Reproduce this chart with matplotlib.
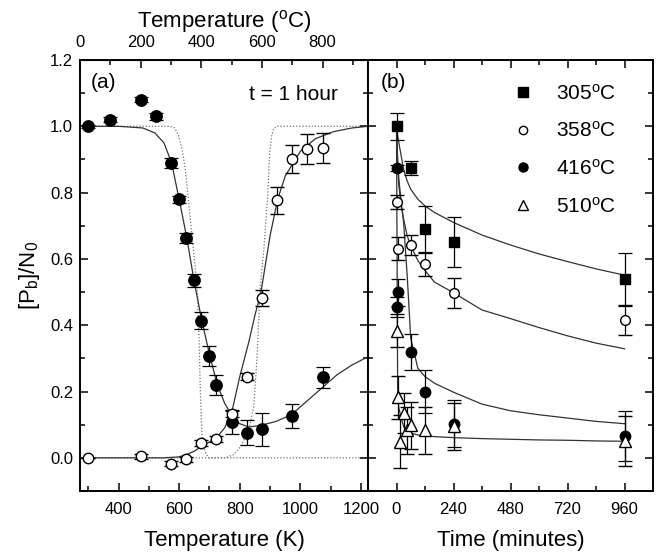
import numpy as np
import matplotlib
matplotlib.use("Agg")
import matplotlib.pyplot as plt
from matplotlib.ticker import MultipleLocator
from matplotlib.lines import Line2D

plt.rcParams['font.family'] = ['Liberation Sans', 'DejaVu Sans']
plt.rcParams['mathtext.default'] = 'regular'

# ---- panel (a): fraction vs annealing temperature, t = 1 hour ----
temp_k_filled = [298, 373, 473, 523, 573, 598, 623, 648, 673, 698, 723, 773, 823, 873, 973, 1073]
frac_filled = [1.0, 1.02, 1.08, 1.03, 0.89, 0.78, 0.662, 0.536, 0.414, 0.308, 0.22, 0.107, 0.076, 0.086, 0.126, 0.243]
err_filled = [0.004, 0.008, 0.008, 0.01, 0.015, 0.01, 0.015, 0.02, 0.025, 0.03, 0.031, 0.035, 0.038, 0.049, 0.037, 0.031]

temp_k_open = [298, 473, 573, 623, 673, 723, 773, 823, 873, 923, 973, 1023, 1073]
frac_open = [0.0, 0.005, -0.018, -0.004, 0.045, 0.057, 0.133, 0.245, 0.482, 0.777, 0.902, 0.932, 0.934]
err_open = [0.0, 0.008, 0.008, 0.008, 0.008, 0.008, 0.01, 0.01, 0.025, 0.04, 0.043, 0.046, 0.046]

fit_filled_k = [273, 400, 480, 520, 550, 575, 600, 625, 650, 675, 700, 725, 750, 775, 800,
                830, 870, 920, 970, 1020, 1070, 1120, 1170, 1223]
fit_filled = [1.0, 1.0, 0.995, 0.98, 0.95, 0.89, 0.78, 0.665, 0.53, 0.413, 0.313, 0.223, 0.165,
              0.125, 0.103, 0.093, 0.098, 0.11, 0.13, 0.17, 0.21, 0.25, 0.28, 0.305]

fit_open_k = [273, 550, 600, 625, 650, 675, 700, 725, 750, 775, 800, 830, 850, 870, 900, 925,
              950, 1000, 1050, 1110, 1170, 1223]
fit_open = [0.0, 0.0, 0.003, 0.01, 0.02, 0.035, 0.048, 0.063, 0.09, 0.143, 0.245, 0.35, 0.43,
            0.5, 0.67, 0.78, 0.85, 0.925, 0.963, 0.984, 0.995, 1.0]

dot_fall_k = [273, 570, 585, 597, 610, 620, 631, 642, 653, 661, 666, 670, 675, 685, 697, 1223]
dot_fall = [1.0, 1.0, 0.995, 0.975, 0.93, 0.874, 0.774, 0.674, 0.574, 0.49, 0.35, 0.2, 0.074,
            0.02, 0.0, 0.0]
dot_rise_k = [273, 752, 780, 802, 830, 846, 857, 866, 872, 879, 891, 899, 905, 912, 925, 1223]
dot_rise = [0.0, 0.0, 0.01, 0.033, 0.083, 0.153, 0.303, 0.49, 0.56, 0.624, 0.774, 0.924, 0.97,
            0.994, 1.0, 1.0]

# ---- panel (b): fraction vs annealing time ----
time_305 = [0, 60, 120, 240, 960]
frac_305 = [1.0, 0.874, 0.69, 0.652, 0.539]
err_305 = [0.04, 0.02, 0.07, 0.075, 0.08]

time_358 = [0, 5, 60, 120, 240, 960]
frac_358 = [0.772, 0.631, 0.641, 0.584, 0.496, 0.417]
err_358 = [0.022, 0.035, 0.03, 0.035, 0.045, 0.045]

time_416 = [0, 0, 5, 60, 120, 240, 960]
frac_416 = [0.874, 0.454, 0.499, 0.32, 0.2, 0.103, 0.065]
err_416 = [0.01, 0.03, 0.04, 0.055, 0.065, 0.07, 0.075]

time_510 = [0, 5, 15, 30, 45, 60, 120, 240, 960]
frac_510 = [0.384, 0.183, 0.048, 0.135, 0.083, 0.098, 0.083, 0.095, 0.05]
err_510 = [0.05, 0.065, 0.08, 0.06, 0.07, 0.07, 0.07, 0.07, 0.075]

fit_t = [0, 5, 10, 20, 30, 45, 60, 90, 120, 160, 240, 360, 480, 600, 720, 840, 960]
fit_305 = [1.0, 0.97, 0.95, 0.91, 0.87, 0.835, 0.81, 0.78, 0.76, 0.74, 0.71, 0.672, 0.642,
           0.615, 0.592, 0.57, 0.551]
fit_358 = [1.0, 0.88, 0.82, 0.76, 0.72, 0.67, 0.64, 0.595, 0.565, 0.53, 0.498, 0.446, 0.42,
           0.393, 0.368, 0.346, 0.329]
fit_416 = [1.0, 0.9, 0.84, 0.77, 0.71, 0.55, 0.36, 0.27, 0.245, 0.225, 0.198, 0.162, 0.142,
           0.13, 0.12, 0.11, 0.103]
fit_510 = [1.0, 0.18, 0.15, 0.118, 0.095, 0.08, 0.075, 0.069, 0.067, 0.064, 0.061, 0.058,
           0.056, 0.054, 0.053, 0.051, 0.05]

legend_labels = ["305$^o$C", "358$^o$C", "416$^o$C", "510$^o$C"]

W, H = 657, 557
fig = plt.figure(figsize=(W / 100, H / 100), dpi=100)
ax1 = fig.add_axes([80 / W, 1 - 491 / H, 288 / W, 431 / H])
ax2 = fig.add_axes([368 / W, 1 - 491 / H, 285 / W, 431 / H], sharey=ax1)

fit_kw = dict(color="0.2", lw=0.9, zorder=2)
dot_kw = dict(color="0.45", lw=0.9, ls=(0, (1, 1.5)), zorder=1)
eb_kw = dict(ecolor="k", elinewidth=0.9, capsize=4.8, capthick=0.9, ls="none", zorder=3)

# (a)
ax1.plot(dot_fall_k, dot_fall, **dot_kw)
ax1.plot(dot_rise_k, dot_rise, **dot_kw)
ax1.plot(fit_filled_k, fit_filled, **fit_kw)
ax1.plot(fit_open_k, fit_open, **fit_kw)
ax1.errorbar(temp_k_filled, frac_filled, yerr=err_filled, fmt="o", mfc="k", mec="k", ms=8.2, **eb_kw)
ax1.errorbar(temp_k_open, frac_open, yerr=err_open, fmt="o", mfc="white", mec="k", mew=1.0,
             ms=7.5, **eb_kw)

ax1.set_xlim(273, 1223)
ax1.set_ylim(-0.1, 1.2)
ax1.xaxis.set_major_locator(MultipleLocator(200))
ax1.xaxis.set_minor_locator(MultipleLocator(100))
ax1.yaxis.set_major_locator(MultipleLocator(0.2))
ax1.yaxis.set_minor_locator(MultipleLocator(0.1))
ax1.yaxis.set_major_formatter(lambda v, p: f"{v:.1f}")
ax1.set_xlabel("Temperature (K)", fontsize=16, labelpad=9)
ax1.set_ylabel("[P$_b$]/N$_0$", fontsize=16, labelpad=6)
ax1.text(0.083, 0.947, "(a)", transform=ax1.transAxes, fontsize=15, ha="center", va="center")
ax1.text(0.74, 0.921, "t = 1 hour", transform=ax1.transAxes, fontsize=15, ha="center", va="center")

top = ax1.secondary_xaxis("top", functions=(lambda k: k - 273, lambda c: c + 273))
top.xaxis.set_major_locator(MultipleLocator(200))
top.xaxis.set_minor_locator(MultipleLocator(100))
top.tick_params(which="both", direction="in", labelsize=12, width=1.1)
top.tick_params(which="major", length=6, pad=7)
top.tick_params(which="minor", length=3.5)
top.set_xlabel("Temperature ($^o$C)", fontsize=16, labelpad=6)

# (b)
ax2.plot(fit_t, fit_305, **fit_kw)
ax2.plot(fit_t, fit_358, **fit_kw)
ax2.plot(fit_t, fit_416, **fit_kw)
ax2.plot(fit_t, fit_510, **fit_kw)
ax2.errorbar(time_305, frac_305, yerr=err_305, fmt="s", mfc="k", mec="k", ms=7.5, **eb_kw)
ax2.errorbar(time_358, frac_358, yerr=err_358, fmt="o", mfc="white", mec="k", mew=1.0, ms=7, **eb_kw)
ax2.errorbar(time_416, frac_416, yerr=err_416, fmt="o", mfc="k", mec="k", ms=7.5, **eb_kw)
ax2.errorbar(time_510, frac_510, yerr=err_510, fmt="^", mfc="white", mec="k", mew=1.0, ms=8, **eb_kw)

ax2.set_xlim(-120, 1080)
ax2.xaxis.set_major_locator(MultipleLocator(240))
ax2.xaxis.set_minor_locator(MultipleLocator(120))
ax2.set_xlabel("Time (minutes)", fontsize=16, labelpad=9)
ax2.tick_params(labelleft=False)
ax2.text(0.088, 0.947, "(b)", transform=ax2.transAxes, fontsize=15, ha="center", va="center")

handles = [
    Line2D([], [], ls="none", marker="s", mfc="k", mec="k", ms=6.5),
    Line2D([], [], ls="none", marker="o", mfc="white", mec="k", ms=6),
    Line2D([], [], ls="none", marker="o", mfc="k", mec="k", ms=6.5),
    Line2D([], [], ls="none", marker="^", mfc="white", mec="k", ms=6.5),
]
ax2.legend(handles, legend_labels, loc="upper left", bbox_to_anchor=(0.507, 0.946),
           frameon=False, fontsize=15, handlelength=1.0, handletextpad=1.1,
           labelspacing=0.85, borderaxespad=0, borderpad=0)

for ax in (ax1, ax2):
    for s in ax.spines.values():
        s.set_linewidth(1.4)
    ax.tick_params(which="both", direction="in", top=False, right=True, labelsize=12, width=1.1)
    ax.tick_params(which="major", length=6, pad=5)
    ax.tick_params(which="minor", length=3.5)
    ax.tick_params(axis="x", pad=8)
ax2.tick_params(axis="x", which="both", top=True)

fig.savefig("out.png", dpi=100)
